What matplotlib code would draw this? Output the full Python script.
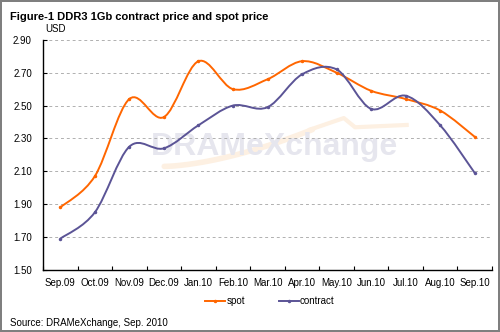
import matplotlib
matplotlib.use("Agg")
import matplotlib.pyplot as plt
from matplotlib.path import Path
from matplotlib.patches import PathPatch
from matplotlib.lines import Line2D
import numpy as np

plt.rcParams['font.family'] = ['Liberation Sans', 'DejaVu Sans']

months = ['Sep.09', 'Oct.09', 'Nov.09', 'Dec.09', 'Jan.10', 'Feb.10', 'Mar.10',
          'Apr.10', 'May.10', 'Jun.10', 'Jul.10', 'Aug.10', 'Sep.10']
spot = [1.88, 2.07, 2.54, 2.43, 2.77, 2.60, 2.66, 2.77, 2.70, 2.59, 2.54, 2.47, 2.31]
contract = [1.69, 1.85, 2.25, 2.24, 2.38, 2.50, 2.49, 2.69, 2.72, 2.48, 2.56, 2.38, 2.09]

spot_color = '#FF6600'
contract_color = '#5B5496'


# smooth line like the spreadsheet "smoothed line" option (bezier through points)
def smooth_path(xs, ys):
    pts = np.column_stack([xs, ys]).astype(float)
    n = len(pts)
    verts = [pts[0]]
    codes = [Path.MOVETO]
    for i in range(n - 1):
        p0 = pts[max(i - 1, 0)]
        p1 = pts[i]
        p2 = pts[i + 1]
        p3 = pts[min(i + 2, n - 1)]
        c1 = p1 + (p2 - p0) / 6.0
        c2 = p2 - (p3 - p1) / 6.0
        verts += [c1, c2, p2]
        codes += [Path.CURVE4] * 3
    return Path(verts, codes)


fig = plt.figure(figsize=(5, 3.32), dpi=100)
fig.patch.set_edgecolor('#7f7f7f')
fig.patch.set_linewidth(1.5)
ax = fig.add_axes([0.086, 0.187, 0.898, 0.693])

x = np.arange(len(months))

# watermark (logo text + faint orange swoosh)
swoosh = '#fdf0e2'
t = np.linspace(0, 1, 60)
ax.plot(0.27 + 0.33 * t, 0.45 + 0.16 * t ** 1.6, transform=ax.transAxes,
        color=swoosh, lw=4, zorder=0, solid_capstyle='round')
ax.plot([0.595, 0.67, 0.695, 0.81], [0.61, 0.66, 0.62, 0.63],
        transform=ax.transAxes, color=swoosh, lw=3, zorder=0)
ax.text(0.515, 0.535, 'DRAMeXchange', transform=ax.transAxes, ha='center', va='center',
        fontsize=23, fontweight='bold', color='#e6e6ee', zorder=0)

for vals, col in [(spot, spot_color), (contract, contract_color)]:
    ax.add_patch(PathPatch(smooth_path(x, vals), facecolor='none', edgecolor=col,
                           lw=1.4, zorder=3))
    ax.plot(x, vals, ls='none', marker='o', ms=1.5, color=col, zorder=4)

ax.set_xlim(-0.5, len(months) - 0.5)
ax.set_ylim(1.50, 2.90)
ax.set_yticks(np.arange(1.50, 2.91, 0.20))
ax.set_yticklabels(['%.2f' % v for v in np.arange(1.50, 2.91, 0.20)], fontsize=7)
ax.set_xticks(x)
ax.set_xticklabels(months, fontsize=7)
ax.set_xticks(np.arange(-0.5, len(months)), minor=True)
ax.tick_params(axis='x', which='major', length=0, pad=6)
ax.tick_params(axis='x', which='minor', length=3, direction='in', width=0.8)
ax.tick_params(axis='y', length=3, direction='in', width=0.8, pad=8)

ax.grid(axis='y', ls=(0, (3, 3)), color='#b0b0b0', lw=0.7)
ax.set_axisbelow(True)
for s in ['top', 'right']:
    ax.spines[s].set_visible(False)
ax.spines['left'].set_linewidth(1.0)
ax.spines['bottom'].set_linewidth(1.0)

ax.text(0.005, 1.025, 'USD', transform=ax.transAxes, fontsize=7, ha='left', va='bottom')

handles = [Line2D([], [], color=spot_color, lw=1.4, marker='o', ms=1.5),
           Line2D([], [], color=contract_color, lw=1.4, marker='o', ms=1.5)]
fig.legend(handles, ['spot', 'contract'], loc='center', bbox_to_anchor=(0.54, 0.093),
           ncol=2, frameon=False, fontsize=7, handlelength=2.06, handletextpad=0.1,
           columnspacing=3.5)

fig.text(0.02, 0.965, 'Figure-1 DDR3 1Gb contract price and spot price', fontsize=8,
         fontweight='bold', ha='left', va='top')
fig.text(0.02, 0.012, 'Source: DRAMeXchange, Sep. 2010', fontsize=7, ha='left', va='bottom')

fig.savefig('out.png', dpi=100)
